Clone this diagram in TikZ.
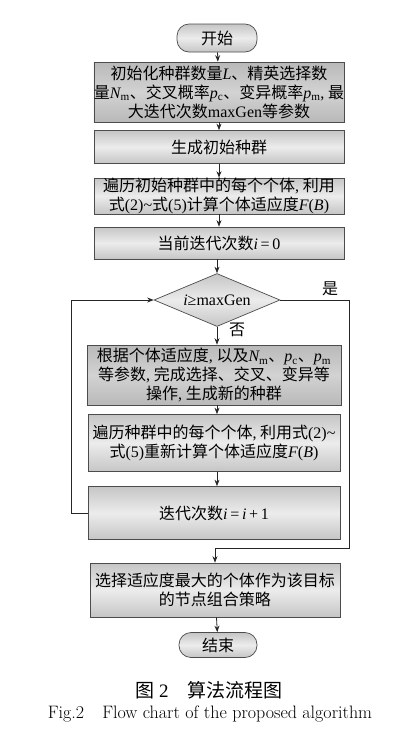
\documentclass[tikz,border=0pt]{standalone}
\usepackage{fontspec}
\newfontfamily\cjk{Noto Sans CJK SC}
\newfontfamily\tnr{Liberation Serif}
\usetikzlibrary{shapes.geometric,arrows.meta}
\newcommand\T[1]{{\tnr #1}}
\newcommand\I[1]{{\tnr\itshape #1}}
\newcommand\sub[1]{\textsubscript{\tnr #1}}
\begin{document}
\begin{tikzpicture}[x=1pt,y=-1pt,
  box/.style={draw=black!70, line width=0.7pt, top color=gray!45, bottom color=gray!45, middle color=gray!15,
    font=\cjk\fontsize{16}{19}\selectfont, align=center, inner sep=0pt},
  darkbox/.style={box, top color=gray!55, bottom color=gray!55, middle color=gray!35},
  term/.style={box, rounded corners=12pt},
  arr/.style={-{Stealth[length=6.5pt,width=5pt]}, line width=0.8pt, draw=black!85},
  lbl/.style={font=\cjk\fontsize{16}{18}\selectfont, inner sep=0pt}]
\useasboundingbox (0,0) rectangle (409,732);
\node[term, minimum width=80pt, minimum height=28pt] (start) at (217,38) {开始};
\node[darkbox, minimum width=250pt, minimum height=60pt] (b1) at (219,92)
  {初始化种群数量\I{L}、精英选择数\\量\I{N}\sub{m}、交叉概率\I{p}\sub{c}、变异概率\I{p}\sub{m}\T{,} 最\\大迭代次数\T{maxGen}等参数};
\node[box, minimum width=250pt, minimum height=33pt] (b2) at (219,147) {生成初始种群};
\node[box, minimum width=250pt, minimum height=34pt] (b3) at (219,196)
  {遍历初始种群中的每个个体\T{,} 利用\\式\T{(2)\textasciitilde}式\T{(5)}计算个体适应度\I{F}\T{(}\I{B}\T{)}};
\node[box, minimum width=250pt, minimum height=32pt] (b4) at (219,243) {当前迭代次数\I{i}\T{\,=\,0}};
\node[box, diamond, aspect=2.4, minimum width=126pt, minimum height=53pt] (dia) at (217,300) {\I{i}\T{≥maxGen}};
\node[darkbox, minimum width=254pt, minimum height=60pt] (b5) at (214,375)
  {根据个体适应度\T{,} 以及\I{N}\sub{m}、\I{p}\sub{c}、\I{p}\sub{m}\\等参数\T{,} 完成选择、交叉、变异等\\操作\T{,} 生成新的种群};
\node[box, minimum width=252pt, minimum height=57pt] (b6) at (214,443)
  {遍历种群中的每个个体\T{,} 利用式\T{(2)\textasciitilde}\\式\T{(5)}重新计算个体适应度\I{F}\T{(}\I{B}\T{)}};
\node[box, minimum width=252pt, minimum height=53pt] (b7) at (214,513) {迭代次数\I{i}\T{\,=\,}\I{i}\T{\,+\,1}};
\node[box, minimum width=250pt, minimum height=54pt] (b8) at (215,590)
  {选择适应度最大的个体作为该目标\\的节点组合策略};
\node[term, minimum width=78pt, minimum height=25pt] (end) at (218,645) {结束};
\draw[arr] (start) -- (b1);
\draw[arr] (b1) -- (b2);
\draw[arr] (b2) -- (b3);
\draw[arr] (b3) -- (b4);
\draw[arr] (b4.south -| dia.north) -- (dia.north);
\draw[arr] (dia.south) -- (dia.south |- b5.north);
\draw[arr] (b5.south -| dia.south) -- (b6.north -| dia.south);
\draw[arr] (b6.south -| dia.south) -- (b7.north -| dia.south);
\coordinate (lc) at (71,513);
\coordinate (rc) at (349,548);
\draw[arr] (b7.west) -- (lc) |- (dia.west);
\draw[arr] (dia.east) -| (rc) -| (b8.north);
\draw[arr] (b8) -- (end);
\node[lbl] (yes) at (330,289) {是};
\node[lbl] (no) at (237,330) {否};
\node[font=\cjk\fontsize{19}{21}\selectfont, inner sep=0pt] (cap1) at (209,690) {图\T{ 2}\quad 算法流程图};
\node[font=\fontsize{18}{20}\selectfont, inner sep=0pt] (cap2) at (210,714) {Fig.2\quad Flow chart of the proposed algorithm};
\end{tikzpicture}
\end{document}
